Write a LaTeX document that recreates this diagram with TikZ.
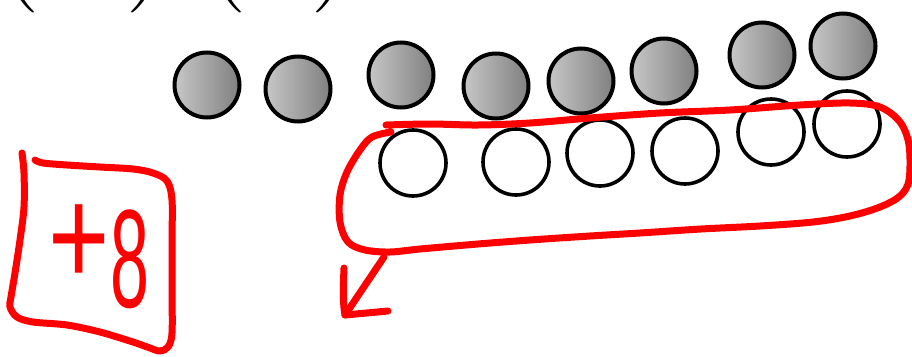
\documentclass[tikz,border=0pt]{standalone}
\usepackage{fontspec}
\newfontfamily\handfont{Liberation Sans}
\begin{document}
\begin{tikzpicture}[x=1pt,y=-1pt,
  graycirc/.style={circle, draw=black, line width=4pt, minimum size=65pt, inner sep=0pt, left color=black!22, right color=black!50},
  whitecirc/.style={circle, draw=black, line width=3.6pt, minimum size=66pt, inner sep=0pt, fill=white},
  redstroke/.style={draw=red, line width=7pt, line cap=round, line join=round},
  paren/.style={font=\fontsize{130}{130}\selectfont, inner sep=0pt, anchor=base west}
]
\useasboundingbox (0,0) rectangle (912,356);
\clip (0,0) rectangle (912,356);
% partial parentheses at the top edge
\node[paren] (p1) at (-6,-19) {(};
\node[paren] (p2) at (125,-19) {)};
\node[paren] (p3) at (201,-19) {(};
\node[paren] (p4) at (310,-19) {)};
% gray counters
\node[graycirc] (g1) at (207,85) {};
\node[graycirc] (g2) at (298,89) {};
\node[graycirc] (g3) at (401,75) {};
\node[graycirc] (g4) at (496,86) {};
\node[graycirc] (g5) at (581,81) {};
\node[graycirc] (g6) at (664,71) {};
\node[graycirc] (g7) at (762,55) {};
\node[graycirc] (g8) at (843,46) {};
% white counters
\node[whitecirc] (w1) at (413,163) {};
\node[whitecirc] (w2) at (516,162) {};
\node[whitecirc] (w3) at (600,153) {};
\node[whitecirc] (w4) at (685,151) {};
\node[whitecirc] (w5) at (771,132) {};
\node[whitecirc] (w6) at (847,124) {};
% red loop around the white counters
\draw[redstroke] plot[smooth, tension=0.55] coordinates {
  (386,125) (430,124) (478,125) (530,123) (590,118) (660,113) (730,110)
  (800,105) (850,103) (880,107) (900,122) (909,145) (909,180) (900,196)
  (880,207) (850,216) (813,222) (760,226) (701,229) (640,233) (590,236)
  (530,240) (478,244) (420,249) (390,252) (365,250) (348,242) (340,222)
  (340,195) (347,172) (360,150) (372,137) (391,132)};
% arrow out of the loop
\coordinate (arrowstart) at (384,257);
\coordinate (arrowtip) at (345,315);
\draw[redstroke] (arrowstart) -- (arrowtip);
\draw[redstroke] (344,268) .. controls (343,290) and (343,305) .. (arrowtip) -- (388,311);
% +8 box
\draw[redstroke] plot[smooth, tension=0.55] coordinates {
  (35,160) (43,163) (67,165) (100,167) (133,169) (153,173) (167,181)
  (172,200) (172,240) (172,290) (172,333) (168,347) (160,351) (150,348)
  (133,342) (100,332) (67,325) (33,322) (17,317) (10,307) (11,297)
  (15,273) (20,240) (24,207) (24,173) (22,153)};
\node[text=red, font=\handfont\fontsize{140}{140}\selectfont, inner sep=0pt, anchor=base] (plus8) at (99,307) {\scalebox{0.75}[1]{\raisebox{22pt}{+}}\scalebox{0.5}[1]{8}};
\end{tikzpicture}
\end{document}
